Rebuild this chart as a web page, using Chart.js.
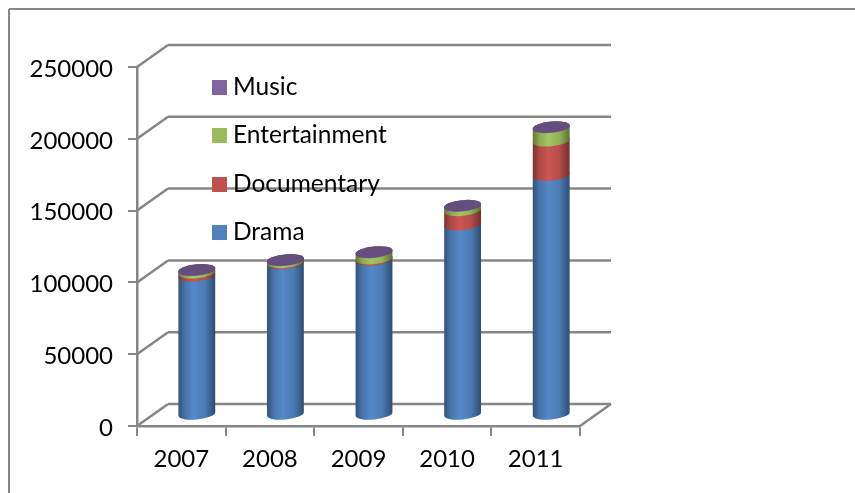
<!DOCTYPE html>
<html>
<head>
<meta charset="utf-8">
<style>
  html, body { margin: 0; padding: 0; background: #fff; }
  canvas { display: block; }
</style>
<script src="https://cdn.jsdelivr.net/npm/chart.js@4/dist/chart.umd.min.js"></script>
</head>
<body>
<canvas id="mediaChart" width="855" height="493"></canvas>
<script>
const years = ['2007', '2008', '2009', '2010', '2011'];
const seriesNames = ['Drama', 'Documentary', 'Entertainment', 'Music'];
const seriesColors = ['#4f81bd', '#c0504d', '#9bbb59', '#8064a2'];
const drama = [97000, 105500, 108000, 132500, 167000];
const documentary = [2000, 800, 900, 10000, 24000];
const entertainment = [1800, 1400, 4300, 3000, 9300];
const music = [300, 300, 300, 300, 200];

const LINE = '#868686';
const FONT = 'Lato';
const DEPTH_X = 31;
const DEPTH_Y = 22;
const TILT = -0.1;

function line(ctx, x1, y1, x2, y2) {
  ctx.beginPath();
  ctx.moveTo(x1, y1);
  ctx.lineTo(x2, y2);
  ctx.stroke();
}

// mix a hex colour with black, amount 0..1
function shade(hex, amount) {
  const n = parseInt(hex.slice(1), 16);
  const f = 1 - amount;
  return 'rgb(' + Math.round((n >> 16) * f) + ',' + Math.round(((n >> 8) & 255) * f) + ',' + Math.round((n & 255) * f) + ')';
}

function drawWalls(chart) {
  const { ctx, chartArea: area, scales } = chart;
  ctx.save();
  ctx.strokeStyle = LINE;
  ctx.lineWidth = 2;
  // outer frame
  line(ctx, 9, 9, 855, 9);
  line(ctx, 9, 9, 9, 493);
  ctx.lineWidth = 2.5;
  scales.y.ticks.forEach(function(tick) {
    const y = scales.y.getPixelForValue(tick.value);
    line(ctx, area.left, y, area.left + DEPTH_X, y - DEPTH_Y);
    line(ctx, area.left + DEPTH_X, y - DEPTH_Y, area.right + DEPTH_X, y - DEPTH_Y);
  });
  line(ctx, area.right, area.bottom, area.right + DEPTH_X, area.bottom - DEPTH_Y);
  ctx.restore();
}

function drawLegend(chart) {
  const { ctx } = chart;
  const tops = [80, 128, 177, 225];
  ctx.save();
  ctx.font = '24.5px ' + FONT;
  ctx.textBaseline = 'middle';
  chart.data.datasets.slice().reverse().forEach(function(ds, i) {
    ctx.fillStyle = ds.backgroundColor;
    ctx.fillRect(212, tops[i], 15, 15);
    ctx.fillStyle = '#000';
    ctx.fillText(ds.label, 233, tops[i] + 7);
  });
  ctx.restore();
}

function drawCylinders(chart) {
  const { ctx } = chart;
  const count = chart.data.datasets.length;
  ctx.save();
  chart.data.datasets.forEach(function(ds, d) {
    chart.getDatasetMeta(d).data.forEach(function(bar) {
      const cx = bar.x + DEPTH_X / 2;
      const rx = bar.width / 2;
      const ry = 5.5;
      const dx = rx * Math.cos(TILT);
      const dy = rx * Math.sin(TILT);
      const yTop = bar.y - DEPTH_Y / 2;
      const yBase = bar.base - DEPTH_Y / 2;
      const side = ctx.createLinearGradient(cx - dx, 0, cx + dx, 0);
      side.addColorStop(0, shade(ds.backgroundColor, 0.36));
      side.addColorStop(0.18, shade(ds.backgroundColor, 0.1));
      side.addColorStop(0.42, shade(ds.backgroundColor, -0.06));
      side.addColorStop(0.72, shade(ds.backgroundColor, 0.05));
      side.addColorStop(1, shade(ds.backgroundColor, 0.4));
      ctx.fillStyle = side;
      ctx.beginPath();
      ctx.ellipse(cx, yBase, rx, ry, TILT, Math.PI, 0, true);
      ctx.lineTo(cx + dx, yTop + dy);
      ctx.ellipse(cx, yTop, rx, ry, TILT, 0, Math.PI, true);
      ctx.closePath();
      ctx.fill();
      if (d === count - 1) {
        ctx.fillStyle = shade(ds.backgroundColor, 0.22);
        ctx.beginPath();
        ctx.ellipse(cx, yTop, rx, ry, TILT, 0, Math.PI * 2);
        ctx.fill();
      }
    });
  });
  ctx.restore();
}

const cylinderPlugin = {
  id: 'cylinders',
  beforeDraw: function(chart) {
    drawWalls(chart);
    drawLegend(chart);
  },
  beforeDatasetsDraw: function(chart) {
    drawCylinders(chart);
    return false; // bars are replaced by the cylinders
  }
};

const values = [drama, documentary, entertainment, music];

new Chart(document.getElementById('mediaChart'), {
  type: 'bar',
  data: {
    labels: years,
    datasets: seriesNames.map(function(name, i) {
      return { label: name, data: values[i], backgroundColor: seriesColors[i] };
    })
  },
  options: {
    responsive: false,
    animation: false,
    categoryPercentage: 1,
    barPercentage: 0.418,
    layout: { padding: { left: 0, top: 67, right: 275, bottom: 0 } },
    plugins: { legend: { display: false }, title: { display: false }, tooltip: { enabled: false } },
    scales: {
      x: {
        stacked: true,
        afterFit: function(scale) { scale.height = 67; },
        grid: { drawOnChartArea: false, color: LINE, lineWidth: 2, tickLength: 10 },
        border: { color: LINE, width: 2.5 },
        ticks: { color: '#000', font: { family: FONT, size: 24 }, padding: 9, maxRotation: 0 }
      },
      y: {
        stacked: true,
        min: 0,
        max: 250000,
        afterFit: function(scale) { scale.width = 137; },
        grid: { drawOnChartArea: false, color: LINE, lineWidth: 2, tickLength: 9 },
        border: { color: LINE, width: 2.5 },
        ticks: {
          stepSize: 50000,
          color: '#000',
          font: { family: FONT, size: 24 },
          padding: 15,
          labelOffset: 2,
          callback: function(value) { return String(value); }
        }
      }
    }
  },
  plugins: [cylinderPlugin]
});
</script>
</body>
</html>
